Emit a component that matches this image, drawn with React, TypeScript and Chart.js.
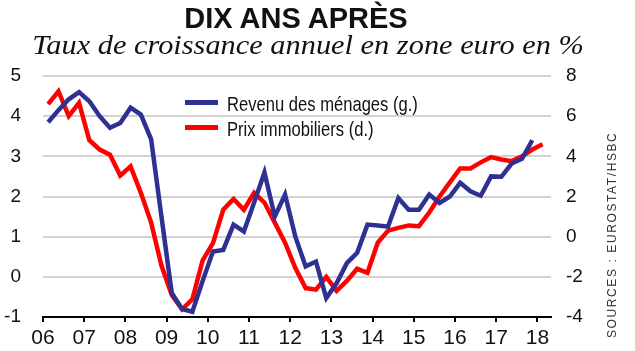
import React, { useEffect, useRef } from 'react';
import { Chart, registerables } from 'chart.js';

Chart.register(...registerables);

const firstYear = 2006;
const yearTicks = [2006, 2007, 2008, 2009, 2010, 2011, 2012, 2013, 2014, 2015, 2016, 2017, 2018];
const yearLabels = ['06', '07', '08', '09', '10', '11', '12', '13', '14', '15', '16', '17', '18'];
const leftTicks = [-1, 0, 1, 2, 3, 4, 5];
const rightTicks = [-4, -2, 0, 2, 4, 6, 8];

// Revenu des ménages, % (échelle de gauche), trimestriel à partir de 2006 T1
const revenuMenages = [
  3.85, 4.15, 4.42, 4.6, 4.37, 4.0, 3.71, 3.83, 4.21, 4.04, 3.42, 1.5,
  -0.4, -0.8, -0.87, -0.1, 0.63, 0.67, 1.3, 1.13, 1.85, 2.6, 1.5, 2.05,
  1.0, 0.26, 0.38, -0.53, -0.16, 0.34, 0.6, 1.3, 1.28, 1.25, 1.96, 1.67,
  1.67, 2.05, 1.84, 2.0, 2.34, 2.13, 2.02, 2.5, 2.49, 2.82, 2.94, 3.4,
];

// Prix immobiliers, % (échelle de droite), trimestriel à partir de 2006 T1
const prixImmobiliers = [
  6.6, 7.24, 6.0, 6.66, 4.8, 4.34, 4.08, 3.04, 3.5, 2.18, 0.7, -1.44,
  -2.9, -3.62, -3.12, -1.18, -0.32, 1.34, 1.88, 1.34, 2.18, 1.7, 0.7, -0.3,
  -1.56, -2.56, -2.64, -2.0, -2.7, -2.2, -1.6, -1.8, -0.3, 0.3, 0.44, 0.56,
  0.52, 1.2, 2.0, 2.7, 3.4, 3.4, 3.7, 3.96, 3.84, 3.76, 4.0, 4.34, 4.6,
];

const BLUE = '#2e3192';
const RED = '#ff0000';
const SANS = '"Liberation Sans", Arial, sans-serif';

export default function App() {
  const ref = useRef<HTMLCanvasElement>(null);

  useEffect(() => {
    document.body.style.margin = '0';
    const toPoints = (vals: number[]) => vals.map((v, i) => ({ x: firstYear + (i + 0.5) / 4, y: v }));
    const chart = new Chart(ref.current as HTMLCanvasElement, {
      type: 'line',
      data: {
        datasets: [
          {
            label: 'Revenu des ménages (g.)',
            data: toPoints(revenuMenages),
            borderColor: BLUE,
            borderWidth: 4.5,
            pointRadius: 0,
            tension: 0,
            yAxisID: 'y',
          },
          {
            label: 'Prix immobiliers (d.)',
            data: toPoints(prixImmobiliers),
            borderColor: RED,
            borderWidth: 4.5,
            pointRadius: 0,
            tension: 0,
            yAxisID: 'y2',
          },
        ],
      },
      options: {
        responsive: false,
        animation: false,
        layout: { padding: { top: 76, left: 0, right: 0, bottom: 0 } },
        plugins: {
          legend: { display: false },
          tooltip: { enabled: false },
          title: { display: false },
        },
        scales: {
          x: {
            type: 'linear',
            min: 2006,
            max: 2018.33,
            afterBuildTicks: (axis: any) => {
              axis.ticks = yearTicks.map((v) => ({ value: v }));
            },
            afterFit: (axis: any) => {
              axis.height = 34;
            },
            ticks: {
              callback: (v: any) => {
                const k = yearTicks.indexOf(Number(v));
                return k >= 0 ? yearLabels[k] : '';
              },
              font: { family: SANS, size: 21 },
              color: '#111',
              padding: 4,
              maxRotation: 0,
              autoSkip: false,
            },
            grid: { drawOnChartArea: false, drawTicks: true, tickLength: 5, color: '#000', lineWidth: 2 },
            border: { display: true, color: '#000', width: 2 },
          },
          y: {
            position: 'left',
            min: -1,
            max: 5,
            afterBuildTicks: (axis: any) => {
              axis.ticks = leftTicks.map((v) => ({ value: v }));
            },
            afterFit: (axis: any) => {
              axis.width = 43;
            },
            ticks: { font: { family: SANS, size: 19 }, color: '#111', padding: 22 },
            grid: { color: '#d2d2d2', lineWidth: 2, drawTicks: false },
            border: { display: false },
          },
          y2: {
            position: 'right',
            min: -4,
            max: 8,
            afterBuildTicks: (axis: any) => {
              axis.ticks = rightTicks.map((v) => ({ value: v }));
            },
            afterFit: (axis: any) => {
              axis.width = 84;
            },
            ticks: { font: { family: SANS, size: 19 }, color: '#111', padding: 15 },
            grid: { drawOnChartArea: false, drawTicks: false },
            border: { display: false },
          },
        },
      },
    });
    return () => chart.destroy();
  }, []);

  const legendText: React.CSSProperties = {
    position: 'absolute',
    left: 227,
    font: `21px ${SANS}`,
    color: '#111',
    lineHeight: '24px',
    whiteSpace: 'nowrap',
    transformOrigin: 'left center',
    transform: 'scaleX(0.79)',
  };

  return (
    <div style={{ position: 'fixed', left: 0, top: 0, width: 635, height: 351, background: '#fff', overflow: 'hidden' }}>
      <canvas ref={ref} width={635} height={351} style={{ position: 'absolute', left: 0, top: 0, display: 'block' }} />
      <div
        style={{
          position: 'absolute', left: 0, top: 2, width: 592, textAlign: 'center',
          font: `bold 29px ${SANS}`, color: '#111', lineHeight: '32px',
        }}
      >
        DIX ANS APRÈS
      </div>
      <div
        style={{
          position: 'absolute', left: 0, top: 30, width: 616, textAlign: 'center',
          font: `italic 27px "Liberation Serif", serif`, color: '#111', lineHeight: '31px',
          transformOrigin: '308px center', transform: 'scaleX(1.125)',
        }}
      >
        Taux de croissance annuel en zone euro en %
      </div>
      <div style={{ position: 'absolute', left: 185, top: 100.3, width: 33, height: 5, background: BLUE }} />
      <div style={{ position: 'absolute', left: 185, top: 124.5, width: 33, height: 5, background: RED }} />
      <div style={{ ...legendText, top: 92 }}>Revenu des ménages (g.)</div>
      <div style={{ ...legendText, top: 117 }}>Prix immobiliers (d.)</div>
      <div
        style={{
          position: 'absolute', left: 605, top: 338, transformOrigin: 'left top', transform: 'rotate(-90deg)',
          font: `12px ${SANS}`, letterSpacing: '1.6px', color: '#333', lineHeight: '14px', whiteSpace: 'nowrap',
        }}
      >
        SOURCES : EUROSTAT/HSBC
      </div>
    </div>
  );
}
